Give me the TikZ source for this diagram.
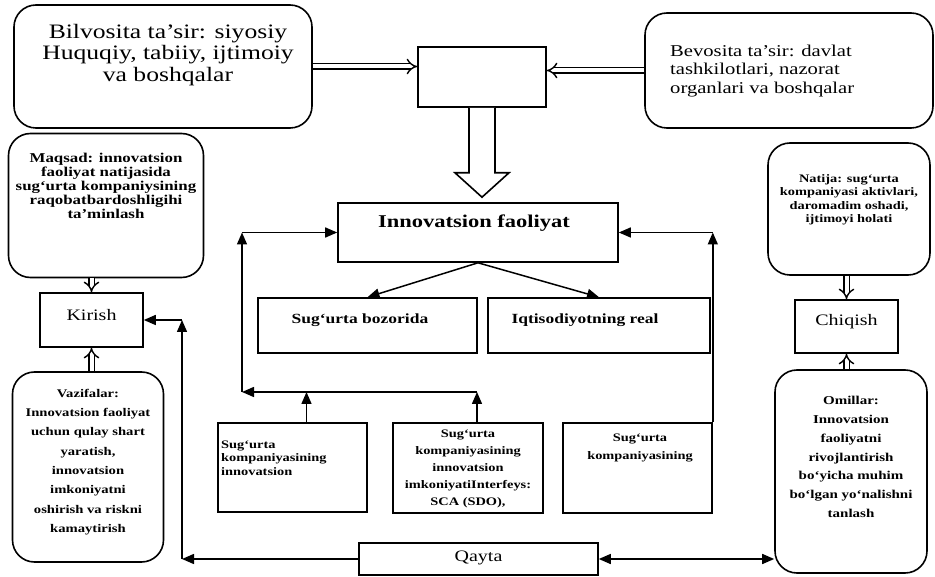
\documentclass[tikz,border=0pt]{standalone}
\usepackage{fontspec}
\setmainfont{Liberation Serif}[FakeStretch=1.25]
\usetikzlibrary{positioning, arrows.meta, calc}
\tikzset{
  rbox/.style={draw, line width=1.6pt, rounded corners=22pt, inner sep=0pt},
  sbox/.style={draw, line width=1.6pt, inner sep=0pt},
  btxt/.style={align=center, inner sep=0pt, font=\bfseries\fontsize{12}{13.5}\selectfont},
  conn/.style={line width=1.5pt, -{Triangle[length=12pt,width=10pt]}},
  hollow/.style={double, double distance=4pt, line width=1.4pt, -{Implies[length=7pt, width=16pt]}},
  bigarr/.style={draw, line width=1.6pt, line join=miter, fill=white}
}

\begin{document}
\begin{tikzpicture}[x=1pt, y=-1pt]
  \useasboundingbox (0,0) rectangle (935,577);
  % top row
  \node[rbox, minimum width=298pt, minimum height=123pt] (bilv) at (163,66.5) {};
  \node[align=center, inner sep=0pt, font=\fontsize{20.5}{21.5}\selectfont] (bilvtxt) at (168,55)
    {Bilvosita ta’sir: siyosiy\\Huquqiy, tabiiy, ijtimoiy\\va boshqalar};
  \node[sbox, minimum width=128pt, minimum height=60pt] (mid) at (482,77) {};
  \node[rbox, minimum width=288pt, minimum height=115pt] (bevo) at (789,70.5) {};
  \node[align=left, anchor=west, inner sep=0pt, font=\fontsize{16.5}{18.5}\selectfont] (bevotxt) at (670,71)
    {Bevosita ta’sir: davlat\\tashkilotlari, nazorat\\organlari va boshqalar};
  \draw[hollow] (bilv.east) -- (bilv.east -| mid.west);
  \draw[hollow] (bevo.west) -- (bevo.west -| mid.east);

  % centre column
  \node[sbox, minimum width=280pt, minimum height=59pt] (innov) at (478,232.5) {};
  \node[inner sep=0pt, font=\bfseries\fontsize{18}{20}\selectfont] (innovtxt) at (474,223) {Innovatsion faoliyat};
  \draw[bigarr] ($(mid.south)+(-13,0)$) -- ++(0,65) -- ++(-14,0)
    -- ($(mid.south |- innov.north)+(0,-5)$) -- ($(mid.south)+(27,65)$) -- ++(-14,0) -- ++(0,-65);
  \node[sbox, minimum width=219pt, minimum height=55pt] (bozor) at (367.5,325.5) {};
  \node[inner sep=0pt, font=\bfseries\fontsize{14}{16}\selectfont] (bozortxt) at (360,320) {Sug‘urta bozorida};
  \node[sbox, minimum width=222pt, minimum height=55pt] (iqt) at (599,325.5) {};
  \node[inner sep=0pt, font=\bfseries\fontsize{14}{16}\selectfont] (iqttxt) at (585,320) {Iqtisodiyotning real};
  \draw[conn] (innov.south) -- (bozor.north);
  \draw[conn] (innov.south) -- (iqt.north);

  \node[sbox, minimum width=149pt, minimum height=89pt] (sk1) at (292.5,467.5) {};
  \node[btxt, align=left, anchor=west, font=\bfseries\fontsize{11.5}{13.5}\selectfont] (sk1txt) at (221,458)
    {Sug‘urta\\kompaniyasining\\innovatsion};
  \node[sbox, minimum width=150pt, minimum height=90pt] (sk2) at (468,468) {};
  \node[btxt, font=\bfseries\fontsize{11.5}{17}\selectfont] (sk2txt) at (468,469)
    {Sug‘urta\\kompaniyasining\\innovatsion\\imkoniyatiInterfeys:\\SCA (SDO),};
  \node[sbox, minimum width=149pt, minimum height=90pt] (sk3) at (637.5,468) {};
  \node[btxt, font=\bfseries\fontsize{11.5}{18}\selectfont] (sk3txt) at (640,448)
    {Sug‘urta\\kompaniyasining};

  % feedback to Innovatsion faoliyat
  \coordinate (lbend) at (242,392);
  \draw[conn] ([xshift=9pt]sk2.north) -- ([xshift=9pt]sk2.north |- lbend);
  \draw[conn] ([xshift=14pt]sk1.north) -- ([xshift=14pt]sk1.north |- lbend);
  \draw[conn] ([xshift=9pt]sk2.north |- lbend) -- (lbend);
  \draw[conn] (lbend) -- (lbend |- innov.west);
  \draw[conn] (lbend |- innov.west) -- (innov.west);
  \draw[conn] (sk3.north east) -- (sk3.north east |- innov.east);
  \draw[conn] (sk3.north east |- innov.east) -- (innov.east);

  % left column
  \node[rbox, minimum width=195pt, minimum height=144pt] (maqsad) at (106,205.5) {};
  \node[btxt, font=\bfseries\fontsize{13.5}{14}\selectfont] (maqsadtxt) at (106,186)
    {Maqsad: innovatsion\\faoliyat natijasida\\sug‘urta kompaniysining\\raqobatbardoshligihi\\ta’minlash};
  \node[sbox, minimum width=103pt, minimum height=54pt] (kirish) at (91.5,320) {};
  \node[inner sep=0pt, font=\fontsize{16}{18}\selectfont] (kirishtxt) at (91.5,315) {Kirish};
  \node[rbox, minimum width=151pt, minimum height=190pt] (vazifa) at (88,467) {};
  \node[btxt, font=\bfseries\fontsize{11.7}{19.3}\selectfont] (vazifatxt) at (88,462)
    {Vazifalar:\\Innovatsion faoliyat\\uchun qulay shart\\yaratish,\\innovatsion\\imkoniyatni\\oshirish va riskni\\kamaytirish};
  \draw[hollow] (kirish.north |- maqsad.south) -- (kirish.north);
  \draw[hollow] (kirish.south |- vazifa.north) -- (kirish.south);

  % right column
  \node[rbox, minimum width=162pt, minimum height=132pt] (natija) at (849,209) {};
  \node[btxt, font=\bfseries\fontsize{11.5}{13.5}\selectfont] (natijatxt) at (849,200)
    {Natija: sug‘urta\\kompaniyasi aktivlari,\\daromadim oshadi,\\ijtimoyi holati};
  \node[sbox, minimum width=103pt, minimum height=53pt] (chiqish) at (846.5,326.5) {};
  \node[inner sep=0pt, font=\fontsize{16}{18}\selectfont] (chiqishtxt) at (846.5,322) {Chiqish};
  \node[rbox, minimum width=152pt, minimum height=203pt] (omillar) at (851,471.5) {};
  \node[btxt, font=\bfseries\fontsize{12}{18.8}\selectfont] (omillartxt) at (851,457)
    {Omillar:\\Innovatsion\\faoliyatni\\rivojlantirish\\bo‘yicha muhim\\bo‘lgan yo‘nalishni\\tanlash};
  \draw[hollow] (chiqish.north |- natija.south) -- (chiqish.north);
  \draw[hollow] (chiqish.south |- omillar.north) -- (chiqish.south);

  % bottom row
  \node[sbox, minimum width=239pt, minimum height=32pt] (qayta) at (478.5,559) {};
  \node[inner sep=0pt, font=\fontsize{16}{18}\selectfont] (qaytatxt) at (478.5,558) {Qayta};
  \draw[line width=1.5pt, {Triangle[length=12pt,width=10pt]}-{Triangle[length=12pt,width=10pt]}]
    (qayta.east) -- (qayta.east -| omillar.west);
  \coordinate (kbend) at (182,559);
  \draw[conn] (qayta.west) -- (kbend);
  \draw[conn] (kbend) -- (kbend |- kirish.east);
  \draw[conn] (kbend |- kirish.east) -- (kirish.east);
\end{tikzpicture}
\end{document}
